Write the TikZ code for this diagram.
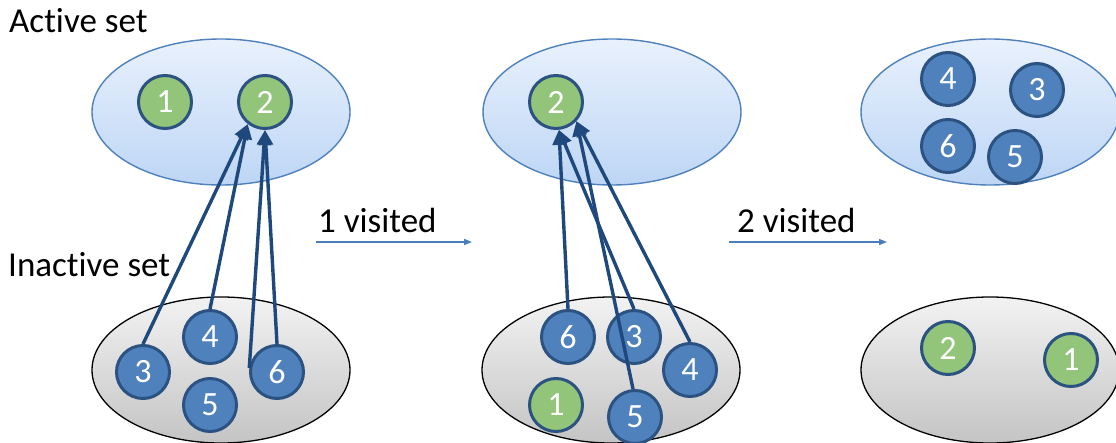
\documentclass[tikz,border=0pt]{standalone}
\usepackage{fontspec}
\setmainfont{Carlito}[Ligatures={NoCommon}]
\usetikzlibrary{shapes.geometric,arrows.meta}
\definecolor{ballblue}{RGB}{79,129,189}
\definecolor{ballgreen}{RGB}{146,196,122}
\definecolor{ballborder}{RGB}{44,82,130}
\definecolor{acttop}{RGB}{233,241,253}
\definecolor{actbot}{RGB}{189,214,245}
\definecolor{actborder}{RGB}{79,129,189}
\definecolor{inacttop}{RGB}{242,242,242}
\definecolor{inactbot}{RGB}{196,196,196}
\definecolor{linkcol}{RGB}{31,73,125}
\definecolor{visitcol}{RGB}{74,126,187}
\tikzset{
  ball/.style={circle, draw=ballborder, line width=3pt, minimum size=53pt, inner sep=0pt, text=white, font=\fontsize{34}{40}\selectfont},
  bb/.style={ball, fill=ballblue},
  gb/.style={ball, fill=ballgreen},
  activeset/.style={ellipse, draw=actborder, line width=1.4pt, top color=acttop, bottom color=actbot, minimum width=258pt, minimum height=146pt, inner sep=0pt},
  inactset/.style={ellipse, draw=black, line width=1.3pt, top color=inacttop, bottom color=inactbot, minimum width=258pt, minimum height=146pt, inner sep=0pt},
  link/.style={draw=linkcol, line width=3.4pt, -{Triangle[length=15pt,width=14pt]}},
  visitarrow/.style={draw=visitcol, line width=1.5pt, -{Triangle[length=8pt,width=6pt]}},
  label/.style={anchor=base west, inner sep=0pt, font=\fontsize{35}{40}\selectfont}
}
\begin{document}
\begin{tikzpicture}[x=1pt,y=-1pt]
\useasboundingbox (0,0) rectangle (1116,443);
\clip (0,0) rectangle (1116,443);
% set ellipses
\node[activeset] (actL) at (221,112) {};
\node[activeset] (actM) at (612,112) {};
\node[activeset] (actR) at (990,112) {};
\node[inactset] (inL) at (221,370) {};
\node[inactset] (inM) at (611,370) {};
\node[inactset] (inR) at (990,370) {};
% labels
\node[label] (tact) at (9,33) {Active set};
\node[label] (tinact) at (8,277) {Inactive set};
\node[label] (tv1) at (318,233) {1 visited};
\node[label] (tv2) at (737,233) {2 visited};
\coordinate (v1s) at (316,242);
\coordinate (v1e) at (472,242);
\coordinate (v2s) at (729,242);
\coordinate (v2e) at (887,242);
\draw[visitarrow] (v1s) -- (v1e);
\draw[visitarrow] (v2s) -- (v2e);
% left panel
\node[gb] (L1) at (165,102) {1};
\node[gb] (L2) at (265,102) {2};
\node[bb] (L3) at (143,372) {3};
\node[bb] (L4) at (210,337) {4};
\node[bb] (L5) at (210,405) {5};
\node[bb] (L6) at (277,372) {6};
% middle panel
\node[gb] (M2) at (556,102) {2};
\node[bb] (M6) at (568,337) {6};
\node[bb] (M3) at (634,337) {3};
\node[bb] (M4) at (690,370) {4};
\node[gb] (M1) at (556,405) {1};
\node[bb] (M5) at (635,417) {5};
% right panel
\node[bb] (R4) at (948,79) {4};
\node[bb] (R3) at (1037,90) {3};
\node[bb] (R6) at (948,146) {6};
\node[bb] (R5) at (1015,157) {5};
\node[gb] (R2) at (948,348) {2};
\node[gb] (R1) at (1071,360) {1};
% links left
\draw[link] (L3.north) -- (L2.232);
\draw[link] (L4.north) -- (L2.232);
\draw[link] (L6.172) -- (L2.270);
\draw[link] (L6.north) -- (L2.270);
% links middle
\draw[link] (M6.north) -- (M2.276);
\draw[link] (M3.north) -- (M2.276);
\draw[link] (M5.94) -- (M2.317);
\draw[link] (M4.north) -- (M2.317);
\end{tikzpicture}
\end{document}
